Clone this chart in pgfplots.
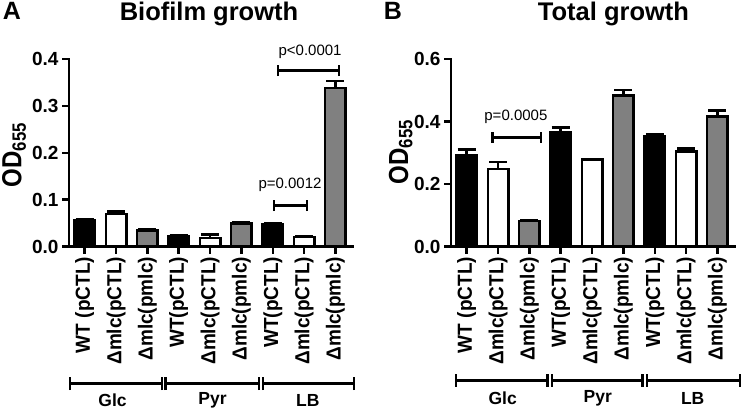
\documentclass[border=0pt]{standalone}
\usepackage{fontspec}
\setmainfont{Liberation Sans}
\usepackage{pgfplots}
\usepackage{pgfplotstable}
\pgfplotsset{compat=1.18}
\definecolor{grayfill}{RGB}{128,128,128}

\pgfplotstableread{
x y e
0 0.055 0.003
3 0.021 0.002
6 0.048 0.002
}\AWT
\pgfplotstableread{
x y e
1 0.069 0.006
4 0.018 0.008
7 0.020 0.002
}\ADel
\pgfplotstableread{
x y e
2 0.034 0.002
5 0.049 0.003
8 0.338 0.015
}\ACom
\pgfplotstableread{
x y e
0 0.293 0.017
3 0.365 0.016
6 0.352 0.006
}\BWT
\pgfplotstableread{
x y e
1 0.248 0.022
4 0.278 0.002
7 0.304 0.010
}\BDel
\pgfplotstableread{
x y e
2 0.082 0.002
5 0.483 0.018
8 0.416 0.019
}\BCom

\pgfplotsset{
  panel/.style={
    scale only axis, width=284pt, height=187.5pt,
    anchor=south west,
    xmin=-0.5, xmax=8.56, ymin=0,
    axis lines*=left,
    axis line style={line width=2.7pt, line cap=rect},
    ybar, bar width=20.5pt, bar shift=0pt,
    clip=false,
    tick align=outside, major tick length=7pt,
    tick style={line width=2.5pt, black},
    xtick={0,...,8},
    xticklabels={WT (pCTL),Δmlc(pCTL),Δmlc(pmlc),WT(pCTL),Δmlc(pCTL),Δmlc(pmlc),WT(pCTL),Δmlc(pCTL),Δmlc(pmlc)},
    yticklabel style={font=\bfseries\fontsize{19}{19}\selectfont},
    xticklabel style={xscale=1.07, rotate=90, anchor=east, font=\bfseries\fontsize{19}{19}\selectfont},
  },
  bars/.style={draw=black, line width=2.5pt, fill=#1,
    error bars/.cd, y dir=plus, y explicit, error mark=|,
    error bar style={line width=2.5pt, black},
    error mark options={line width=2.5pt, black, mark size=9pt}},
}

\newcommand{\grpbr}[6]{%
  \draw[line width=2.5pt] (axis cs:#1,#3) -- (axis cs:#2,#3);
  \draw[line width=2.5pt] ([yshift=-6.5pt]axis cs:#1,#3) -- ([yshift=6.5pt]axis cs:#1,#3);
  \draw[line width=2.5pt] ([yshift=-6.5pt]axis cs:#2,#3) -- ([yshift=6.5pt]axis cs:#2,#3);
  \node[font=\bfseries\fontsize{17.5}{17.5}\selectfont] at (axis cs:#4,#5) {#6};
}
\newcommand{\sigbr}[6]{%
  \draw[line width=2.5pt] (axis cs:#1,#3) -- (axis cs:#2,#3);
  \draw[line width=2.5pt] ([yshift=-5.5pt]axis cs:#1,#3) -- ([yshift=5.5pt]axis cs:#1,#3);
  \draw[line width=2.5pt] ([yshift=-5.5pt]axis cs:#2,#3) -- ([yshift=5.5pt]axis cs:#2,#3);
  \node[font=\fontsize{15}{15}\selectfont] at (axis cs:#4,#5) {#6};
}

\begin{document}
\begin{tikzpicture}
\path[use as bounding box] (0pt,0pt) rectangle (742pt,410pt);

% Panel A
\begin{axis}[panel, at={(69pt,163.5pt)}, ymax=0.4,
  ytick={0,0.1,0.2,0.3,0.4}, yticklabels={0.0,0.1,0.2,0.3,0.4}]
\addplot[bars=black] table[x=x,y=y,y error=e] {\AWT};
\addplot[bars=white] table[x=x,y=y,y error=e] {\ADel};
\addplot[bars=grayfill] table[x=x,y=y,y error=e] {\ACom};
\sigbr{6.17}{8.11}{0.375}{7.19}{0.416}{p<0.0001}
\sigbr{6.04}{7.09}{0.087}{6.55}{0.1316}{p=0.0012}
\grpbr{-0.47}{2.46}{-0.2926}{0.89}{-0.328}{Glc}
\grpbr{2.58}{5.56}{-0.2926}{4.08}{-0.328}{Pyr}
\grpbr{5.69}{8.59}{-0.2926}{7.12}{-0.328}{LB}
\end{axis}

% Panel B
\begin{axis}[panel, at={(451pt,163.5pt)}, ymax=0.6,
  ytick={0,0.2,0.4,0.6}, yticklabels={0.0,0.2,0.4,0.6}]
\addplot[bars=black] table[x=x,y=y,y error=e] {\BWT};
\addplot[bars=white] table[x=x,y=y,y error=e] {\BDel};
\addplot[bars=grayfill] table[x=x,y=y,y error=e] {\BCom};
\sigbr{0.83}{2.37}{0.349}{1.57}{0.414}{p=0.0005}
\grpbr{-0.34}{2.58}{-0.428}{1.15}{-0.486}{Glc}
\grpbr{2.72}{5.61}{-0.428}{4.18}{-0.486}{Pyr}
\grpbr{5.76}{8.72}{-0.428}{7.21}{-0.486}{LB}
\end{axis}

% Titles and labels
\node[font=\bfseries\fontsize{25}{25}\selectfont, anchor=base] at (12pt,390pt) {A};
\node[font=\bfseries\fontsize{25.5}{25.5}\selectfont, anchor=base] at (209pt,389.5pt) {Biofilm growth};
\node[font=\bfseries\fontsize{25}{25}\selectfont, anchor=base] at (393pt,390pt) {B};
\node[font=\bfseries\fontsize{25.5}{25.5}\selectfont, anchor=base] at (613.5pt,389.5pt) {Total growth};
\node[font=\bfseries\fontsize{24}{24}\selectfont, xscale=1.15, rotate=90, anchor=base] at (21.5pt,255pt) {OD\textsubscript{655}};
\node[font=\bfseries\fontsize{24}{24}\selectfont, xscale=1.15, rotate=90, anchor=base] at (408pt,258pt) {OD\textsubscript{655}};
\end{tikzpicture}
\end{document}
